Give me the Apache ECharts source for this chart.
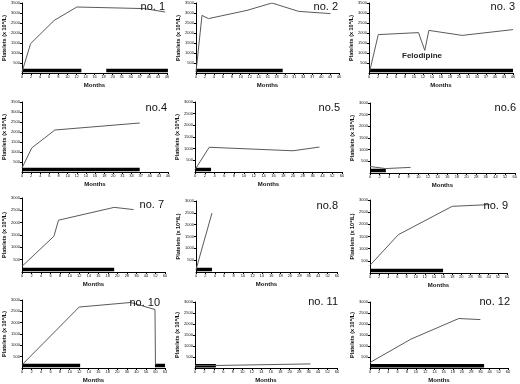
<!DOCTYPE html>
<html>
<head>
<meta charset="utf-8">
<script src="https://cdn.jsdelivr.net/npm/echarts@6/dist/echarts.min.js"></script>
<style>
  html, body { margin: 0; padding: 0; background: #fff; }
  #chart { width: 520px; height: 384px; }
</style>
</head>
<body>
<div id="chart"></div>
<script>
// x tick labels (months, axis has breaks so ticks are evenly spaced)
const ticksA = ['0', '2', '4', '6', '8', '10', '12', '14', '16', '18', '20', '31', '34', '37', '40', '43', '46']
const ticksB = ['0', '2', '4', '6', '8', '10', '12', '14', '16', '18', '20', '28', '36', '44', '52', '60']
const ticksC = ['0', '2', '4', '6', '8', '10', '12', '14', '16', '18', '20', '30', '40', '50', '60', '63']

// platelet counts: [tick position, value]
const line1 = [[0, 50], [0.95, 1470], [3.55, 2630], [6.05, 3300], [13.5, 3220], [15.8, 3050]]
const line2 = [[0, 50], [0.67, 2880], [1.4, 2720], [5.7, 3130], [8.5, 3500], [11.5, 3080], [15.05, 2970]]
const line3 = [[0.1, 130], [1.03, 1920], [5.5, 2020], [6.2, 1130], [6.65, 2130], [10.35, 1880], [16, 2170]]
const line4 = [[0, 200], [1.06, 1200], [3.6, 2100], [12.9, 2450]]
const line5 = [[0, 100], [1.45, 1060], [10, 910], [12.7, 1070]]
const line6 = [[0, 280], [1.6, 190], [4.2, 240]]
const line7 = [[0, 230], [3.35, 1450], [3.83, 2100], [9.67, 2620], [11.7, 2530]]
const line8 = [[0, 100], [1.7, 2490]]
const line9 = [[0, 315], [3.1, 1575], [9, 2740], [13.1, 2810]]
const line10 = [[0, 140], [6, 2690], [11.4, 2890], [13.95, 2580], [14, 140]]
const line11 = [[0, 114], [2.2, 114], [12.2, 186]]
const line12 = [[0, 250], [4.44, 1310], [9.65, 2250], [12, 2200]]

// treatment periods: [start, end] tick positions
const treat1 = [[0, 6.55], [9.3, 16.1]]
const treat2 = [[0, 9.7]]
const treat3 = [[0, 16]]
const treat4 = [[0, 12.9]]
const treat5 = [[0, 1.64]]
const treat6 = [[0, 1.64]]
const treat7 = [[0, 9.67]]
const treat8 = [[0, 1.7]]
const treat9 = [[0, 8]]
const treat10 = [[0, 6.1], [13.95, 15]]
const treat11 = [[0, 2.2]]
const treat12 = [[0, 12.4]]

const panelNames = ['no. 1', 'no. 2', 'no. 3', 'no.4', 'no.5', 'no.6', 'no. 7', 'no.8', 'no. 9', 'no. 10', 'no. 11', 'no. 12']

const panels = [
  { line: line1, treat: treat1, ticks: ticksA, ymax: 3500, g: [22, 3, 145, 70], t: [355, 1] },
  { line: line2, treat: treat2, ticks: ticksA, ymax: 3500, g: [196, 3, 143, 70], t: [182, 1] },
  { line: line3, treat: treat3, ticks: ticksA, ymax: 3500, g: [369, 3, 144, 70], t: [5, 1] },
  { line: line4, treat: treat4, ticks: ticksA, ymax: 3500, g: [22, 102, 146, 70], t: [353, 102] },
  { line: line5, treat: treat5, ticks: ticksB, ymax: 3000, g: [195, 102, 147, 70], t: [180, 102] },
  { line: line6, treat: treat6, ticks: ticksB, ymax: 3000, g: [370, 103, 147, 70], t: [4, 102] },
  { line: line7, treat: treat7, ticks: ticksB, ymax: 3000, g: [22, 198, 143, 74], t: [356, 199] },
  { line: line8, treat: treat8, ticks: ticksB, ymax: 3000, g: [196, 201, 141, 71], t: [182, 200] },
  { line: line9, treat: treat9, ticks: ticksB, ymax: 3000, g: [370, 200, 137, 73], t: [12, 200] },
  { line: line10, treat: treat10, ticks: ticksC, ymax: 3000, g: [22, 300, 143, 72], t: [360, 297] },
  { line: line11, treat: treat11, ticks: ticksB, ymax: 3000, g: [195, 302, 142, 70], t: [182, 296] },
  { line: line12, treat: treat12, ticks: ticksB, ymax: 3000, g: [370, 302, 138, 71], t: [10, 296] }
]

const font = 'Liberation Sans'
const grid = [], xAxis = [], yAxis = [], series = [], title = []

panels.forEach((p, i) => {
  grid.push({ left: p.g[0], top: p.g[1], width: p.g[2], height: p.g[3] })
  xAxis.push({
    gridIndex: i,
    type: 'value',
    min: 0,
    max: p.ticks.length - 1,
    interval: 1,
    name: 'Months',
    nameLocation: 'middle',
    nameGap: 9,
    nameTextStyle: { fontFamily: font, fontSize: 6, fontWeight: 'bold', color: '#111' },
    axisLine: { lineStyle: { color: '#000', width: 1 } },
    axisTick: { length: 2, lineStyle: { color: '#000' } },
    axisLabel: { fontFamily: font, fontSize: 4, color: '#111', margin: 2, formatter: v => p.ticks[v] },
    splitLine: { show: false }
  })
  yAxis.push({
    gridIndex: i,
    type: 'value',
    min: 0,
    max: p.ymax,
    interval: 500,
    name: 'Platelets (x 10⁹/L)',
    nameLocation: 'middle',
    nameGap: 12,
    nameRotate: 90,
    nameTextStyle: { fontFamily: font, fontSize: 5.5, fontWeight: 'bold', color: '#111' },
    axisLine: { show: true, lineStyle: { color: '#000', width: 1 } },
    axisTick: { show: true, length: 2, lineStyle: { color: '#000' } },
    axisLabel: { fontFamily: font, fontSize: 4, color: '#111', margin: 2, showMinLabel: false, formatter: v => String(v) },
    splitLine: { show: false }
  })
  series.push({
    type: 'line',
    xAxisIndex: i,
    yAxisIndex: i,
    data: p.line,
    symbol: 'none',
    lineStyle: { color: '#5a5a5a', width: 1 },
    z: 3
  })
  const level = p.ymax * 0.035
  p.treat.forEach(seg => {
    series.push({
      type: 'line',
      xAxisIndex: i,
      yAxisIndex: i,
      data: [[seg[0], level], [seg[1], level]],
      symbol: 'none',
      lineStyle: { color: '#000', width: 3.5, cap: 'butt' },
      z: 2
    })
  })
  title.push({
    text: panelNames[i],
    right: p.t[0],
    top: p.t[1],
    padding: 0,
    textStyle: { fontFamily: font, fontSize: 11, fontWeight: 'normal', color: '#111' }
  })
})

title.push({
  text: 'Felodipine',
  left: 402,
  top: 52,
  padding: 0,
  textStyle: { fontFamily: font, fontSize: 8, fontWeight: 'bold', color: '#222' }
})

const chart = echarts.init(document.getElementById('chart'))
chart.setOption({
  animation: false,
  backgroundColor: '#fff',
  title: title,
  grid: grid,
  xAxis: xAxis,
  yAxis: yAxis,
  series: series
})
</script>
</body>
</html>
